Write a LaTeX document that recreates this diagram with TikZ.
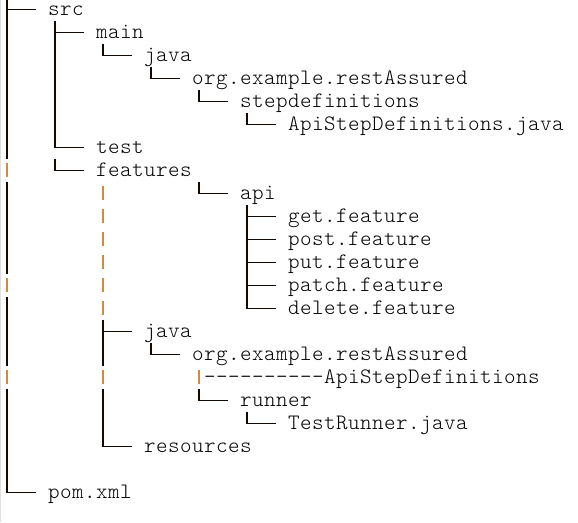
\documentclass[tikz,border=0pt]{standalone}
\usepackage{fontspec}
\newfontfamily\courlike{Latin Modern Mono Light}[LetterSpace=2.05]
\definecolor{pipeorange}{RGB}{205,140,70}
\definecolor{inkc}{RGB}{20,10,5}
\begin{document}
\begin{tikzpicture}[x=1pt,y=-1pt,
  lbl/.style={anchor=base west,inner sep=0pt,text height=11pt,text depth=4pt,text=black,font=\courlike\fontsize{22}{24}\selectfont},
  vl/.style={line width=1.6pt,draw=inkc,line cap=butt},
  hl/.style={line width=1pt,draw=inkc,line cap=butt},
  pp/.style={line width=1.4pt,draw=pipeorange,line cap=butt}]
\useasboundingbox (0,0) rectangle (578,522);
\draw[gray!25,line width=1pt] (0.5,0) -- (0.5,522);
% text nodes
\node[lbl] (src) at (48,15) {src};
\node[lbl] (main) at (96,38) {main};
\node[lbl] (java1) at (144,61) {java};
\node[lbl] (org1) at (192,84) {org.example.restAssured};
\node[lbl] (stepdefs) at (240,107) {stepdefinitions};
\node[lbl] (apisd) at (288,130) {ApiStepDefinitions.java};
\node[lbl] (test) at (96,153) {test};
\node[lbl] (features) at (96,176) {features};
\node[lbl] (api) at (240,199) {api};
\node[lbl] (get) at (288,222) {get.feature};
\node[lbl] (post) at (288,245) {post.feature};
\node[lbl] (put) at (288,268) {put.feature};
\node[lbl] (patch) at (288,291) {patch.feature};
\node[lbl] (delete) at (288,314) {delete.feature};
\node[lbl] (java2) at (144,337) {java};
\node[lbl] (org2) at (192,360) {org.example.restAssured};
\node[lbl] (dashapi) at (204,383) {----------ApiStepDefinitions};
\node[lbl] (runner) at (240,406) {runner};
\node[lbl] (testrunner) at (288,429) {TestRunner.java};
\node[lbl] (resources) at (144,452) {resources};
\node[lbl] (pom) at (48,498) {pom.xml};
% stems (black box-drawing verticals)
\coordinate (s0a) at (7,0);      \coordinate (s0b) at (7,158.5);
\coordinate (s0c) at (7,181.5);  \coordinate (s0d) at (7,273.5);
\coordinate (s0e) at (7,296.5);  \coordinate (s0f) at (7,365.5);
\coordinate (s0g) at (7,388.5);  \coordinate (s0h) at (7,492.5);
\draw[vl] (s0a) -- (s0b); \draw[vl] (s0c) -- (s0d);
\draw[vl] (s0e) -- (s0f); \draw[vl] (s0g) -- (s0h);
\draw[vl] (55,20.5) -- (55,147.5);
\draw[vl] (55,158.5) -- (55,170.5);
\draw[vl] (103,43.5) -- (103,55.5);
\draw[vl] (103,319.5) -- (103,365.5);
\draw[vl] (103,388.5) -- (103,446.5);
\draw[vl] (151,66.5) -- (151,78.5);
\draw[vl] (151,342.5) -- (151,354.5);
\draw[vl] (199,89.5) -- (199,101.5);
\draw[vl] (199,181.5) -- (199,193.5);
\draw[vl] (199,388.5) -- (199,400.5);
\draw[vl] (247,112.5) -- (247,124.5);
\draw[vl] (247,204.5) -- (247,308.5);
\draw[vl] (247,411.5) -- (247,423.5);
% branches to nodes
\foreach \xx/\yy/\nn in {7/9/src, 55/32/main, 103/55/java1, 151/78/org1,
  199/101/stepdefs, 247/124/apisd, 55/147/test, 55/170/features,
  199/193/api, 247/216/get, 247/239/post, 247/262/put, 247/285/patch,
  247/308/delete, 103/331/java2, 151/354/org2, 199/400/runner,
  247/423/testrunner, 103/446/resources, 7/492/pom}
  \draw[hl] ({\xx-0.8},\yy) -- ([xshift=-12pt,yshift=6pt]\nn.base west);
% ASCII pipes
\foreach \xx/\yy in {7/170, 7/285, 7/377, 103/193, 103/216, 103/239,
  103/262, 103/285, 103/308, 103/377}
  \draw[pp] (\xx,{\yy-7.5}) -- (\xx,{\yy+7});
\draw[pp] (199,369.5) -- ([xshift=-5pt,yshift=-1pt]dashapi.base west);
\end{tikzpicture}
\end{document}
